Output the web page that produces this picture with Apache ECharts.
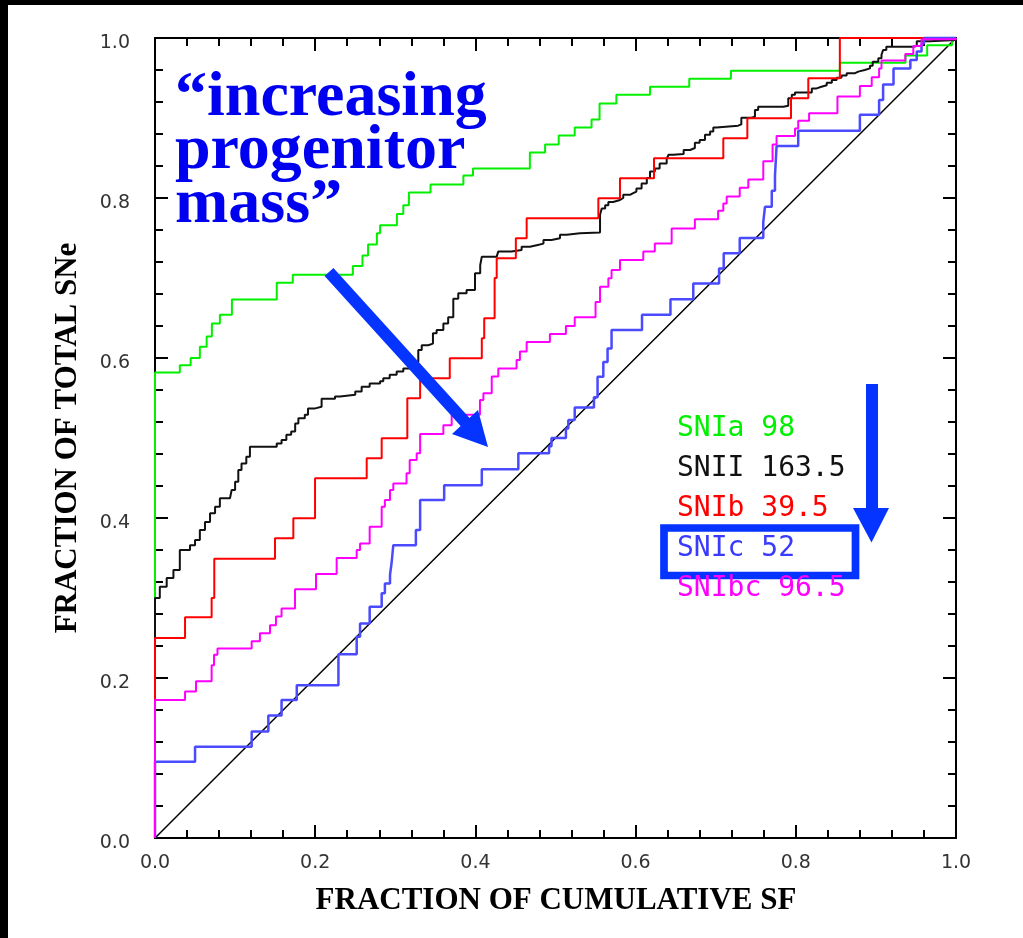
<!DOCTYPE html>
<html>
<head>
<meta charset="utf-8">
<script src="https://cdn.jsdelivr.net/npm/echarts@6/dist/echarts.min.js"></script>
<style>
  html, body { margin: 0; padding: 0; background: #fff; }
  #chart { width: 1023px; height: 938px; }
</style>
</head>
<body>
<div id="chart"></div>
<script>
// Cumulative fraction of SNe vs cumulative star formation, one step curve per type.
// Each point is [fraction of cumulative SF, fraction of total SNe] at a step.
const snIa = [[0,0],[0,0.582],[0.031,0.591],[0.0445,0.600],[0.056,0.614],[0.0645,0.627],[0.071,0.643],[0.081,0.654],[0.096,0.673],[0.152,0.694],[0.172,0.704],[0.247,0.715],[0.259,0.728],[0.266,0.742],[0.277,0.756],[0.281,0.766],[0.302,0.780],[0.310,0.791],[0.317,0.807],[0.344,0.817],[0.385,0.828],[0.397,0.837],[0.468,0.857],[0.487,0.867],[0.504,0.878],[0.524,0.888],[0.545,0.898],[0.555,0.918],[0.576,0.929],[0.618,0.939],[0.667,0.949],[0.719,0.959],[0.855,0.969],[0.937,0.978],[0.964,0.991],[0.995,1.0],[1,1]];

const snII = [[0,0],[0,0.30],[0.006,0.314],[0.0146,0.325],[0.023,0.335],[0.031,0.36],[0.0437,0.366],[0.050,0.3725],[0.056,0.385],[0.0624,0.395],[0.0687,0.406],[0.075,0.414],[0.081,0.4246],[0.0936,0.4267],[0.0957,0.435],[0.10,0.4454],[0.104,0.46],[0.108,0.468],[0.114,0.4767],[0.1185,0.489],[0.152,0.493],[0.158,0.4975],[0.164,0.504],[0.170,0.508],[0.175,0.518],[0.179,0.5246],[0.187,0.529],[0.191,0.537],[0.20,0.539],[0.208,0.549],[0.2247,0.552],[0.231,0.554],[0.25,0.558],[0.258,0.564],[0.268,0.568],[0.281,0.571],[0.285,0.5746],[0.293,0.579],[0.3017,0.583],[0.31,0.587],[0.318,0.591],[0.3246,0.595],[0.3287,0.61],[0.333,0.616],[0.341,0.618],[0.347,0.631],[0.3516,0.635],[0.36,0.643],[0.366,0.651],[0.3724,0.674],[0.3786,0.681],[0.389,0.685],[0.3995,0.706],[0.406,0.716],[0.408,0.7267],[0.4266,0.729],[0.4285,0.733],[0.445,0.735],[0.4577,0.739],[0.468,0.741],[0.4765,0.743],[0.485,0.7475],[0.495,0.7496],[0.5056,0.754],[0.514,0.756],[0.5306,0.757],[0.5556,0.779],[0.5577,0.787],[0.562,0.791],[0.566,0.795],[0.572,0.7975],[0.5805,0.8],[0.5846,0.804],[0.593,0.806],[0.597,0.808],[0.601,0.812],[0.6075,0.818],[0.614,0.825],[0.618,0.833],[0.624,0.837],[0.630,0.843],[0.6388,0.849],[0.641,0.854],[0.647,0.855],[0.66,0.86],[0.668,0.8625],[0.674,0.869],[0.680,0.8725],[0.6866,0.879],[0.693,0.883],[0.697,0.888],[0.701,0.8904],[0.728,0.892],[0.732,0.9004],[0.7447,0.9016],[0.749,0.91],[0.753,0.914],[0.7844,0.9154],[0.7906,0.9246],[0.795,0.929],[0.799,0.932],[0.82,0.937],[0.826,0.939],[0.832,0.941],[0.8386,0.944],[0.845,0.9475],[0.851,0.9504],[0.857,0.953],[0.8635,0.956],[0.874,0.958],[0.878,0.96],[0.886,0.962],[0.8926,0.9654],[0.896,0.9704],[0.903,0.9746],[0.907,0.979],[0.909,0.985],[0.913,0.989],[0.947,0.99],[0.951,0.996],[0.9675,0.9975],[1,1]];

const snIb = [[0,0],[0,0.25],[0.0375,0.276],[0.0707,0.30],[0.074,0.349],[0.1498,0.3746],[0.1727,0.3996],[0.1998,0.4496],[0.2643,0.4746],[0.283,0.4996],[0.315,0.5496],[0.331,0.5746],[0.368,0.5996],[0.408,0.6246],[0.411,0.6496],[0.424,0.70],[0.4266,0.7246],[0.4505,0.7496],[0.464,0.7746],[0.5535,0.7996],[0.5805,0.8246],[0.623,0.8496],[0.7095,0.8746],[0.7395,0.8996],[0.794,0.9246],[0.8156,0.9496],[0.855,1.0],[1,1]];

const snIc = [[0,0],[0,0.0954],[0.05,0.114],[0.1207,0.133],[0.1415,0.153],[0.158,0.1725],[0.177,0.191],[0.229,0.2296],[0.2518,0.2517],[0.256,0.268],[0.268,0.289],[0.283,0.306],[0.287,0.318],[0.2934,0.329],[0.2955,0.345],[0.2975,0.366],[0.3257,0.385],[0.331,0.4225],[0.361,0.441],[0.408,0.461],[0.4536,0.481],[0.492,0.4896],[0.495,0.50],[0.513,0.512],[0.516,0.5225],[0.524,0.538],[0.548,0.551],[0.5525,0.5766],[0.5597,0.595],[0.565,0.612],[0.570,0.635],[0.608,0.654],[0.6435,0.6735],[0.672,0.693],[0.7042,0.712],[0.71,0.731],[0.730,0.750],[0.7594,0.770],[0.7615,0.789],[0.77,0.809],[0.774,0.828],[0.776,0.865],[0.803,0.884],[0.880,0.904],[0.904,0.9225],[0.909,0.942],[0.922,0.962],[0.943,0.9725],[0.951,0.983],[0.957,0.993],[0.96,1.0],[1,1]];

const snIbc = [[0,0],[0,0.1725],[0.0375,0.183],[0.0512,0.196],[0.0707,0.216],[0.0737,0.229],[0.078,0.237],[0.1207,0.246],[0.131,0.256],[0.1436,0.266],[0.151,0.277],[0.158,0.287],[0.1748,0.311],[0.201,0.33],[0.2268,0.35],[0.2518,0.36],[0.256,0.368],[0.268,0.389],[0.283,0.414],[0.287,0.4225],[0.2934,0.435],[0.2975,0.443],[0.314,0.456],[0.318,0.4725],[0.3267,0.481],[0.331,0.505],[0.36,0.516],[0.3704,0.529],[0.4057,0.5475],[0.41,0.556],[0.4204,0.577],[0.4286,0.587],[0.4514,0.5975],[0.4556,0.608],[0.464,0.62],[0.493,0.63],[0.513,0.64],[0.524,0.651],[0.55,0.67],[0.5556,0.689],[0.566,0.6996],[0.570,0.71],[0.5805,0.7225],[0.6096,0.733],[0.624,0.743],[0.645,0.762],[0.674,0.7735],[0.703,0.784],[0.7095,0.793],[0.7137,0.802],[0.730,0.8129],[0.7407,0.823],[0.7594,0.846],[0.771,0.867],[0.776,0.8775],[0.799,0.887],[0.803,0.8965],[0.8166,0.906],[0.852,0.927],[0.88,0.94],[0.8948,0.951],[0.904,0.962],[0.907,0.972],[0.9367,0.98],[0.9467,0.99],[0.957,0.9985],[1,1]];

// Equal-rate reference line
const unity = [[0,0],[1,1]];

// Legend: type name and median value
const typeNames = ['SNIa', 'SNII', 'SNIb', 'SNIc', 'SNIbc'];
const typeValues = ['98', '163.5', '39.5', '52', '96.5'];
const typeColors = ['#00f000', '#111111', '#ff0000', '#3a3aff', '#ff00ff'];

// Annotation text
const noteLines = ['\u201Cincreasing', 'progenitor', 'mass\u201D'];
const xTitle = 'FRACTION OF CUMULATIVE SF';
const yTitle = 'FRACTION OF TOTAL SNe';

const chart = echarts.init(document.getElementById('chart'), null, { renderer: 'canvas' });

const tickFont = { color: '#333', fontSize: 19, fontFamily: 'DejaVu Sans' };
function axisBase(extra) {
  return Object.assign({
    type: 'value', min: 0, max: 1, interval: 0.2,
    axisLine: { show: true, onZero: false, lineStyle: { color: '#000', width: 2 } },
    axisTick: { show: true, inside: true, length: 13, lineStyle: { color: '#000', width: 2 } },
    minorTick: { show: true, splitNumber: 5, length: 8, lineStyle: { color: '#000', width: 2 } },
    splitLine: { show: false },
    minorSplitLine: { show: false }
  }, extra);
}

const curves = [
  { name: 'SNIa', data: snIa, color: typeColors[0], width: 2 },
  { name: 'SNII', data: snII, color: typeColors[1], width: 2 },
  { name: 'SNIb', data: snIb, color: typeColors[2], width: 2 },
  { name: 'SNIc', data: snIc, color: '#4a4aff', width: 2.5 },
  { name: 'SNIbc', data: snIbc, color: typeColors[4], width: 2 }
];

const series = [{
  type: 'line', name: 'unity', data: unity, symbol: 'none', silent: true,
  lineStyle: { color: '#000', width: 1.5 }, z: 2
}].concat(curves.map((c, i) => ({
  type: 'line', name: c.name, data: c.data, step: 'end', symbol: 'none',
  clip: false, lineStyle: { color: c.color, width: c.width }, z: 3 + i
})));

const graphics = [
  // dark frame edges
  { type: 'rect', shape: { x: 0, y: 0, width: 1023, height: 5 }, style: { fill: '#000' } },
  { type: 'rect', shape: { x: 0, y: 0, width: 8, height: 938 }, style: { fill: '#000' } },
  // axis titles
  { type: 'text', x: 556, y: 901, style: { text: xTitle, fill: '#000', font: 'bold 31px "Liberation Serif"', align: 'center', verticalAlign: 'middle' } },
  { type: 'text', x: 68, y: 438, rotation: Math.PI / 2, style: { text: yTitle, fill: '#000', font: 'bold 31px "Liberation Serif"', align: 'center', verticalAlign: 'middle' } },
  // diagonal arrow
  { type: 'line', shape: { x1: 329, y1: 272, x2: 466, y2: 423 }, style: { stroke: '#0533ff', lineWidth: 12 }, z: 20 },
  { type: 'polygon', shape: { points: [[452, 434], [478, 410], [488, 447]] }, style: { fill: '#0533ff' }, z: 20 },
  // vertical arrow
  { type: 'rect', shape: { x: 866, y: 384, width: 12, height: 126 }, style: { fill: '#0533ff' }, z: 20 },
  { type: 'polygon', shape: { points: [[853, 508], [889, 508], [871.5, 542.5]] }, style: { fill: '#0533ff' }, z: 20 },
  // highlight box
  { type: 'rect', shape: { x: 664, y: 528, width: 191.5, height: 47.5 }, style: { fill: 'none', stroke: '#0533ff', lineWidth: 7.7 }, z: 20 }
];

noteLines.forEach((t, i) => {
  graphics.push({ type: 'text', x: 175, y: 98 + i * 53.5, z: 21,
    style: { text: t, fill: '#0000f0', font: 'bold 64px "Liberation Serif"', align: 'left', verticalAlign: 'middle' } });
});

typeNames.forEach((n, i) => {
  graphics.push({ type: 'text', x: 677, y: 429 + i * 40, z: 21,
    style: { text: n + ' ' + typeValues[i], fill: typeColors[i], font: '28px "DejaVu Sans Mono"', align: 'left', verticalAlign: 'middle' } });
});

chart.setOption({
  animation: false,
  backgroundColor: '#fff',
  grid: { left: 155, top: 38, right: 67, bottom: 100, outerBoundsMode: 'none', containLabel: false },
  xAxis: [
    axisBase({ position: 'bottom', axisLabel: Object.assign({ show: true, margin: 16, formatter: v => v.toFixed(1) }, tickFont) }),
    axisBase({ position: 'top', axisLabel: { show: false } })
  ],
  yAxis: [
    axisBase({ position: 'left', axisLabel: Object.assign({ show: true, margin: 25, verticalAlign: 'top', lineHeight: 10, formatter: v => v.toFixed(1) }, tickFont) }),
    axisBase({ position: 'right', axisLabel: { show: false } })
  ],
  series: series,
  graphic: graphics
});
</script>
</body>
</html>
